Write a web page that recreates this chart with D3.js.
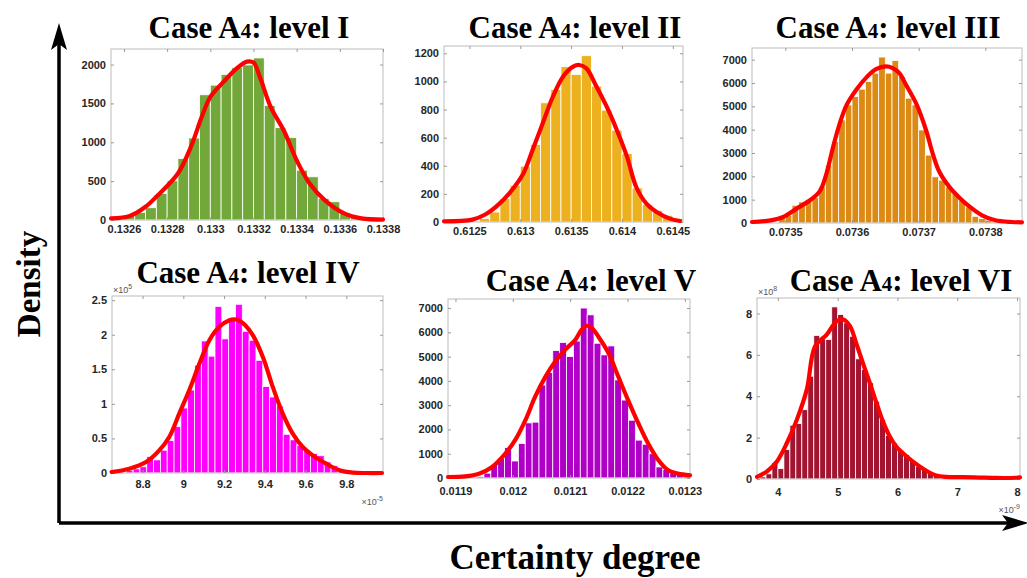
<!DOCTYPE html>
<html>
<head>
<meta charset="utf-8">
<script src="https://cdn.jsdelivr.net/npm/d3@7"></script>
<style>
  body { margin: 0; background: #fff; }
  svg { display: block; }
</style>
</head>
<body>
<svg id="chart" width="1027" height="578"></svg>
<script>
// ---- Data: one histogram + fitted density per uncertainty level ----
const levels = ["I", "II", "III", "IV", "V", "VI"];

// histogram bin start and width (x values; levels IV and VI in scaled units)
const binStarts = [0.1326, 0.6126, 0.07349, 8.72, 0.0119377, 3.7];
const binWidths = [0.00005, 0.0001, 0.00001, 0.0335, 0.000012, 0.1];

const countsI = [56, 98, 158, 342, 504, 790, 1055, 1611, 1735, 1872, 1960, 1995, 2085, 1474, 1188, 1060, 641, 556, 278, 235, 94, 43];
const countsII = [24, 71, 166, 261, 397, 551, 848, 943, 1105, 1050, 1183, 967, 796, 653, 487, 242, 124, 83, 48, 24];
const countsIII = [186, 330, 760, 903, 1004, 1090, 1549, 2481, 3485, 4417, 5062, 5420, 5736, 6066, 6424, 7113, 6424, 6969, 6281, 5349, 5062, 3987, 2911, 1979, 1836, 1549, 1262, 975, 688, 287, 186, 115, 50];
const countsIV = [0.04, 0.06, 0.09, 0.24, 0.19, 0.33, 0.47, 0.67, 0.94, 1.2, 1.56, 1.91, 1.69, 2.41, 1.94, 2.21, 2.44, 2.05, 1.92, 1.63, 1.25, 1.1, 0.97, 0.56, 0.48, 0.4, 0.33, 0.28, 0.25, 0.16, 0.11, 0.06, 0.04];
const countsV = [60, 200, 550, 800, 1254, 700, 1420, 2270, 2300, 3830, 4340, 5250, 5580, 5000, 5640, 7000, 6720, 5550, 5070, 5440, 4040, 3210, 2380, 1560, 1390, 1000, 455, 345, 207, 138, 70];
const countsVI = [0.1, 0.25, 0.8, 0.5, 1.42, 2.6, 2.68, 3.35, 4.97, 6.94, 6.77, 6.74, 8.32, 7.95, 7.55, 6.9, 5.81, 5.29, 4.65, 3.76, 2.87, 2.1, 1.74, 1.37, 1.18, 0.85, 0.61, 0.48, 0.29, 0.13];

// fitted density curves (x, y pairs)
const fitXI = [0.13254, 0.13263, 0.13270, 0.13275, 0.13285, 0.13291, 0.13296, 0.13300, 0.13306, 0.13312, 0.13317, 0.13320, 0.13323, 0.13328, 0.13334, 0.13340, 0.13346, 0.13353, 0.13362, 0.13370, 0.13380];
const fitYI = [21, 56, 171, 299, 598, 940, 1325, 1581, 1773, 1944, 2038, 2026, 1838, 1453, 1154, 769, 470, 256, 85, 21, 5];
const fitXII = [0.61225, 0.61253, 0.61266, 0.61276, 0.61289, 0.61303, 0.61312, 0.61322, 0.61332, 0.61342, 0.61352, 0.61358, 0.61365, 0.61375, 0.61385, 0.61395, 0.61405, 0.61414, 0.61424, 0.61434, 0.61447, 0.61457];
const fitYII = [5, 17, 55, 107, 202, 345, 511, 701, 891, 1034, 1105, 1117, 1093, 962, 820, 653, 463, 249, 131, 71, 24, 7];
const fitXIII = [0.073450, 0.073478, 0.073497, 0.073517, 0.073537, 0.073552, 0.073562, 0.073572, 0.073582, 0.073592, 0.073607, 0.073622, 0.073636, 0.073651, 0.073661, 0.073671, 0.073681, 0.073696, 0.073711, 0.073721, 0.073731, 0.073746, 0.073760, 0.073775, 0.073795, 0.073815, 0.073840, 0.073855];
const fitYIII = [43, 115, 258, 617, 975, 1380, 2150, 3300, 4300, 5062, 5736, 6252, 6596, 6711, 6640, 6424, 5922, 5134, 3987, 2983, 2194, 1549, 1119, 731, 330, 115, 43, 29];
const fitXIV = [8.648, 8.735, 8.817, 8.882, 8.931, 8.980, 9.029, 9.079, 9.128, 9.177, 9.226, 9.259, 9.291, 9.341, 9.390, 9.439, 9.488, 9.537, 9.586, 9.635, 9.701, 9.767, 9.832, 9.898, 9.975];
const fitYIV = [0.014, 0.063, 0.159, 0.328, 0.521, 0.859, 1.197, 1.583, 1.921, 2.114, 2.210, 2.220, 2.172, 1.993, 1.680, 1.245, 0.859, 0.569, 0.376, 0.255, 0.135, 0.039, 0.005, 0, 0];
const fitXV = [0.011887, 0.011917, 0.011941, 0.011964, 0.011987, 0.012004, 0.012022, 0.012039, 0.012057, 0.012074, 0.012091, 0.012109, 0.012120, 0.012129, 0.012138, 0.012149, 0.012167, 0.012184, 0.012201, 0.012219, 0.012236, 0.012254, 0.012271, 0.012288, 0.012309];
const fitYV = [41, 69, 179, 455, 1006, 1557, 2384, 3349, 4176, 4795, 5278, 5691, 6105, 6270, 6173, 5829, 5140, 4175, 3210, 2246, 1419, 730, 317, 179, 110];
const fitXVI = [3.65, 3.817, 3.983, 4.15, 4.317, 4.483, 4.622, 4.817, 4.983, 5.094, 5.206, 5.317, 5.428, 5.539, 5.65, 5.761, 5.872, 5.983, 6.15, 6.317, 6.483, 6.65, 6.817, 7.094, 7.372, 7.65, 7.983, 8.05];
const fitYVI = [0.1, 0.37, 0.85, 1.74, 2.87, 4.32, 6.42, 6.98, 7.63, 7.71, 7.39, 6.5, 5.55, 4.63, 3.66, 2.75, 2.05, 1.55, 1.1, 0.72, 0.4, 0.17, 0.1, 0.09, 0.07, 0.05, 0.06, 0.08];

// axis limits and tick values
const xLimits = [[0.13254, 0.1338], [0.61225, 0.6146], [0.07345, 0.073855], [8.65, 9.98], [0.011887, 0.012309], [3.65, 8.05]];
const yLimits = [[0, 2200], [0, 1252], [0, 7500], [0, 2.56], [0, 7372], [0, 8.75]];
const xTicks = [
  [0.1326, 0.1328, 0.133, 0.1332, 0.1334, 0.1336, 0.1338],
  [0.6125, 0.613, 0.6135, 0.614, 0.6145],
  [0.0735, 0.0736, 0.0737, 0.0738],
  [8.8, 9, 9.2, 9.4, 9.6, 9.8],
  [0.0119, 0.012, 0.0121, 0.0122, 0.0123],
  [4, 5, 6, 7, 8]
];
const yTicks = [
  [0, 500, 1000, 1500, 2000],
  [0, 200, 400, 600, 800, 1000, 1200],
  [0, 1000, 2000, 3000, 4000, 5000, 6000, 7000],
  [0, 0.5, 1, 1.5, 2, 2.5],
  [0, 1000, 2000, 3000, 4000, 5000, 6000, 7000],
  [0, 2, 4, 6, 8]
];
// axis exponent notes: [y exponent, x exponent] (null = none)
const exponents = [[null, null], [null, null], [null, null], ["5", "-5"], [null, null], ["8", "-9"]];

const counts = [countsI, countsII, countsIII, countsIV, countsV, countsVI];
const fitX = [fitXI, fitXII, fitXIII, fitXIV, fitXV, fitXVI];
const fitY = [fitYI, fitYII, fitYIII, fitYIV, fitYV, fitYVI];

// ---- Layout and style ----
const boxes = [
  { l: 111, r: 383, t: 49, b: 220 },
  { l: 444, r: 683, t: 46, b: 222 },
  { l: 752, r: 1022, t: 48, b: 223 },
  { l: 112, r: 383, t: 296, b: 473 },
  { l: 448, r: 690, t: 299, b: 478 },
  { l: 757, r: 1020, t: 298, b: 479 }
];
const xLabelPad = [5, 5, 5, 7, 9, 9];
const titlePos = [[249, 38], [575, 38], [888, 38], [248, 283], [591, 291], [901, 291]];
const barColors = ["#72a83a", "#edb120", "#dc8a14", "#ff00ff", "#b000c8", "#a2142f"];

const svg = d3.select("#chart");
const defs = svg.append("defs");
const tickFont = "'Liberation Sans', Arial, Helvetica, sans-serif";
const serif = "'Liberation Serif', 'Times New Roman', Times, serif";
const fmt = v => String(+v.toFixed(8));

levels.forEach((lvl, i) => {
  const bx = boxes[i];
  const x = d3.scaleLinear().domain(xLimits[i]).range([bx.l, bx.r]);
  const y = d3.scaleLinear().domain(yLimits[i]).range([bx.b, bx.t]);
  const g = svg.append("g").attr("class", "panel-" + lvl);

  defs.append("clipPath").attr("id", "clip" + i)
    .append("rect").attr("x", bx.l).attr("y", bx.t)
    .attr("width", bx.r - bx.l).attr("height", bx.b - bx.t);

  // histogram bars
  const bins = counts[i].map((c, k) => ({
    x0: binStarts[i] + k * binWidths[i],
    x1: binStarts[i] + (k + 1) * binWidths[i],
    c
  }));
  g.append("g").attr("clip-path", `url(#clip${i})`)
    .selectAll("rect").data(bins).join("rect")
    .attr("x", d => x(d.x0))
    .attr("width", d => x(d.x1) - x(d.x0))
    .attr("y", d => y(d.c))
    .attr("height", d => y(0) - y(d.c))
    .attr("fill", barColors[i])
    .attr("stroke", "#ffffff")
    .attr("stroke-width", 0.8);

  // box with mirrored inward ticks
  g.append("rect").attr("x", bx.l).attr("y", bx.t)
    .attr("width", bx.r - bx.l).attr("height", bx.b - bx.t)
    .attr("fill", "none").attr("stroke", "#bcbcbc").attr("stroke-width", 1);

  const xAxisB = d3.axisBottom(x).tickValues(xTicks[i]).tickSize(-3).tickPadding(xLabelPad[i]).tickFormat(fmt);
  const xAxisT = d3.axisTop(x).tickValues(xTicks[i]).tickSize(-3).tickFormat("");
  const yAxisL = d3.axisLeft(y).tickValues(yTicks[i]).tickSize(-3).tickPadding(5).tickFormat(fmt);
  const yAxisR = d3.axisRight(y).tickValues(yTicks[i]).tickSize(-3).tickFormat("");

  const axes = [
    g.append("g").attr("transform", `translate(0,${bx.b})`).call(xAxisB),
    g.append("g").attr("transform", `translate(0,${bx.t})`).call(xAxisT),
    g.append("g").attr("transform", `translate(${bx.l},0)`).call(yAxisL),
    g.append("g").attr("transform", `translate(${bx.r},0)`).call(yAxisR)
  ];
  axes.forEach(a => {
    a.select(".domain").remove();
    a.selectAll(".tick line").attr("stroke", "#9a9a9a");
    a.selectAll("text").attr("fill", "#262626")
      .style("font-family", tickFont).style("font-size", "11px").style("font-weight", "bold");
  });

  // fitted density
  const pts = fitX[i].map((v, k) => [v, fitY[i][k]]);
  g.append("path").datum(pts)
    .attr("fill", "none").attr("stroke", "#ff0000").attr("stroke-width", 4.2)
    .attr("stroke-linejoin", "round").attr("stroke-linecap", "round")
    .attr("d", d3.line().x(d => x(d[0])).y(d => y(d[1])).curve(d3.curveCatmullRom.alpha(0.5)));

  // exponent notes
  const [ey, ex] = exponents[i];
  if (ey) {
    const t = g.append("text").attr("x", bx.l + 1).attr("y", bx.t - 3)
      .attr("fill", "#555").style("font-family", tickFont).style("font-size", "9px");
    t.append("tspan").text("\u00d710");
    t.append("tspan").attr("dy", -4).style("font-size", "7px").text(ey);
  }
  if (ex) {
    const t = g.append("text").attr("x", bx.r).attr("y", bx.b + (i === 5 ? 34 : 32))
      .attr("text-anchor", "end")
      .attr("fill", "#555").style("font-family", tickFont).style("font-size", "9px");
    t.append("tspan").text("\u00d710");
    t.append("tspan").attr("dy", -4).style("font-size", "7px").text(ex);
  }

  // panel title
  const tt = svg.append("text").attr("x", titlePos[i][0]).attr("y", titlePos[i][1])
    .attr("text-anchor", "middle")
    .style("font-family", serif).style("font-weight", "bold").style("font-size", "31px")
    .attr("fill", "#000");
  tt.append("tspan").text("Case A");
  tt.append("tspan").style("font-size", "21px").text("4");
  tt.append("tspan").text(": level " + lvl);
});

// ---- Outer frame with arrows ----
const frame = svg.append("g");
frame.append("path")
  .attr("d", "M59,523 L59,40 M59,523 L1015,523")
  .attr("fill", "none").attr("stroke", "#000").attr("stroke-width", 3.5);
frame.append("path")
  .attr("d", "M59,23 L67,50 L59,44 L51,50 Z")
  .attr("fill", "#000");
frame.append("path")
  .attr("d", "M1029,523 L1002,531 L1008,523 L1002,515 Z")
  .attr("fill", "#000");

svg.append("text")
  .attr("transform", "translate(40,284) rotate(-90)")
  .attr("text-anchor", "middle")
  .style("font-family", serif).style("font-weight", "bold").style("font-size", "33px")
  .text("Density");

svg.append("text")
  .attr("x", 575).attr("y", 569)
  .attr("text-anchor", "middle")
  .style("font-family", serif).style("font-weight", "bold").style("font-size", "35px")
  .text("Certainty degree");
</script>
</body>
</html>
